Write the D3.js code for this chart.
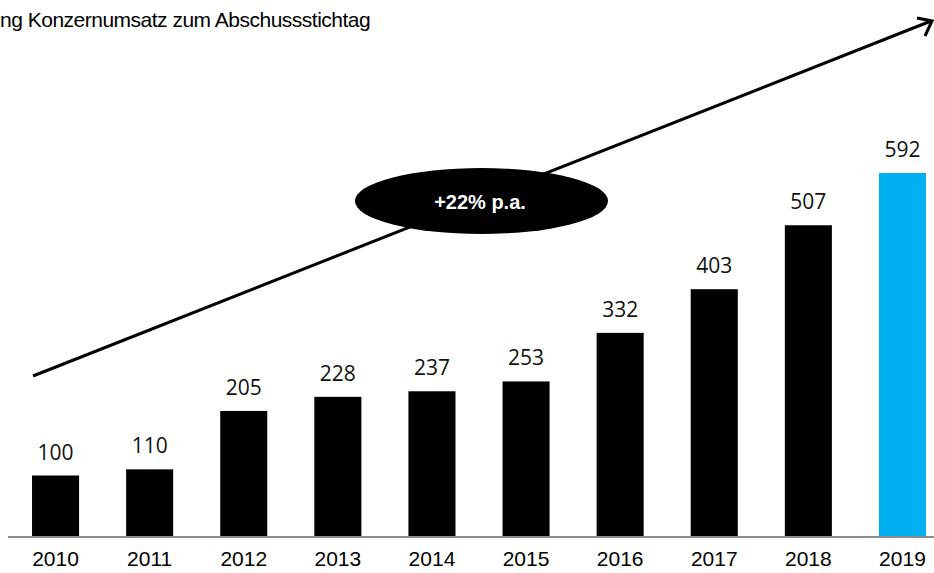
<!DOCTYPE html>
<html>
<head>
<meta charset="utf-8">
<script src="https://cdn.jsdelivr.net/npm/d3@7"></script>
<style>
  body { margin: 0; background: #fff; }
  svg { display: block; }
</style>
</head>
<body>
<div id="chart"></div>
<script>
// data
const years = ['2010', '2011', '2012', '2013', '2014', '2015', '2016', '2017', '2018', '2019'];
const revenue = [100, 110, 205, 228, 237, 253, 332, 403, 507, 592];
const barColors = ['#000', '#000', '#000', '#000', '#000', '#000', '#000', '#000', '#000', '#00b0f0'];
const titleText = 'ng Konzernumsatz zum Abschussstichtag';
const growthText = '+22% p.a.';

const width = 934;
const height = 573;
const baseline = 537;

const svg = d3.select('#chart')
  .append('svg')
  .attr('width', width)
  .attr('height', height);

// scales
const x = d3.scaleBand()
  .domain(years)
  .range([8.5, 949.5])
  .paddingInner(0.5)
  .paddingOuter(0.25);

const y = d3.scaleLinear()
  .domain([0, 592])
  .range([baseline, 173]);

const bars = years.map((yr, i) => ({ year: yr, value: revenue[i], color: barColors[i] }));

// title (cut off on the left, like the slide)
svg.append('text')
  .attr('x', 0)
  .attr('y', 27)
  .attr('font-family', 'Liberation Sans, Arial, sans-serif')
  .attr('font-size', 21)
  .attr('letter-spacing', -0.5)
  .attr('fill', '#000')
  .text(titleText);

// bars
svg.selectAll('rect.bar')
  .data(bars)
  .enter()
  .append('rect')
  .attr('class', 'bar')
  .attr('x', d => x(d.year))
  .attr('width', x.bandwidth())
  .attr('y', d => y(d.value))
  .attr('height', d => baseline - y(d.value))
  .attr('fill', d => d.color);

// value labels
svg.selectAll('text.val')
  .data(bars)
  .enter()
  .append('text')
  .attr('class', 'val')
  .attr('x', d => x(d.year) + x.bandwidth() / 2)
  .attr('y', d => y(d.value) - 16)
  .attr('text-anchor', 'middle')
  .attr('font-family', 'Open Sans, sans-serif')
  .attr('font-size', 21)
  .attr('fill', '#111')
  .text(d => d.value);

// x axis
const xAxis = d3.axisBottom(x).tickSize(0).tickPadding(0);
const xAxisGroup = svg.append('g')
  .attr('transform', `translate(0, ${baseline})`)
  .call(xAxis);

xAxisGroup.select('.domain').remove();
xAxisGroup.selectAll('text')
  .attr('y', 29)
  .attr('dy', 0)
  .attr('font-family', 'Liberation Sans, Arial, sans-serif')
  .attr('font-size', 21)
  .attr('fill', '#000');

svg.append('line')
  .attr('x1', 8)
  .attr('x2', width)
  .attr('y1', baseline)
  .attr('y2', baseline)
  .attr('stroke', '#8c8c8c')
  .attr('stroke-width', 2);

// growth arrow
svg.append('line')
  .attr('x1', 33)
  .attr('y1', 376)
  .attr('x2', 931)
  .attr('y2', 21)
  .attr('stroke', '#000')
  .attr('stroke-width', 3);

svg.append('polyline')
  .attr('points', '917,18 932,21 925,36')
  .attr('fill', 'none')
  .attr('stroke', '#000')
  .attr('stroke-width', 3)
  .attr('stroke-linejoin', 'miter');

// growth bubble
svg.append('ellipse')
  .attr('cx', 481.5)
  .attr('cy', 201)
  .attr('rx', 126.5)
  .attr('ry', 33)
  .attr('fill', '#000');

svg.append('text')
  .attr('x', 480)
  .attr('y', 209)
  .attr('text-anchor', 'middle')
  .attr('font-family', 'Liberation Sans, Arial, sans-serif')
  .attr('font-weight', 'bold')
  .attr('font-size', 20)
  .attr('fill', '#fff')
  .text(growthText);
</script>
</body>
</html>
